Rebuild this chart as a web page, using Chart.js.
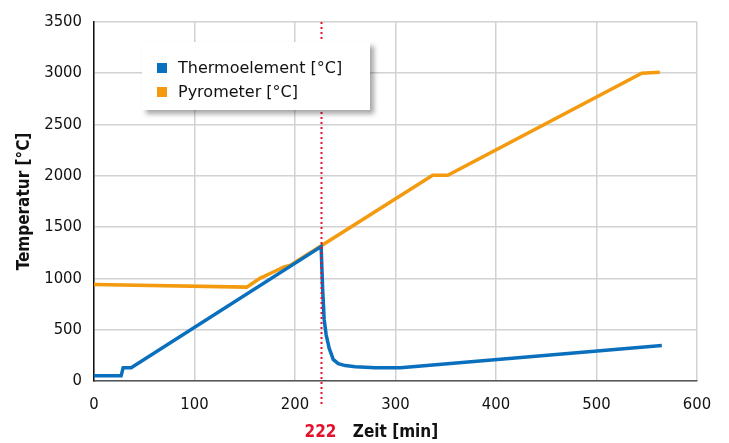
<!DOCTYPE html>
<html>
<head>
<meta charset="utf-8">
<script src="https://cdn.jsdelivr.net/npm/chart.js@4/dist/chart.umd.min.js"></script>
<style>
  html, body { margin: 0; padding: 0; background: #fff; }
  #wrap { position: relative; width: 729px; height: 443px; }
  #legend {
    position: absolute; left: 142px; top: 42px; width: 228px; height: 68px;
    background: #fff; box-shadow: 4px 4px 5px rgba(0,0,0,0.35);
    font-family: "DejaVu Sans", Verdana, sans-serif; font-size: 16px; color: #111;
  }
  #legend .row { position: absolute; left: 15px; height: 20px; line-height: 20px; white-space: nowrap; }
  #legend .box { display: inline-block; width: 10px; height: 10px; margin-right: 11px; vertical-align: 0px; }
</style>
</head>
<body>
<div id="wrap">
  <canvas id="chart" width="729" height="443"></canvas>
  <div id="legend">
    <div class="row" style="top:16px"><span class="box" style="background:#0a6fbd"></span>Thermoelement [°C]</div>
    <div class="row" style="top:40px"><span class="box" style="background:#f39a0f"></span>Pyrometer [°C]</div>
  </div>
</div>
<script>
// Zeit [min] / Temperatur [°C]
const thermoTime = [0, 27, 29, 37, 226, 227.5, 229, 231, 234, 238, 243, 250, 260, 280, 305, 565];
const thermoTemp = [50, 50, 130, 130, 1310, 900, 600, 450, 320, 210, 170, 150, 140, 130, 130, 345];

const pyroTime = [0, 152, 165, 180, 189, 195, 337, 352, 545, 563];
const pyroTemp = [940, 915, 1000, 1070, 1112, 1125, 2005, 2005, 3000, 3010];

const markerTime = 226;
const markerLabel = "222";

const toPoints = (xs, ys) => xs.map((x, i) => ({x: x, y: ys[i]}));

const tickFont = {family: "'DejaVu Sans Condensed', 'DejaVu Sans', sans-serif", size: 16.5};
const titleFont = {family: "'DejaVu Sans Condensed', 'DejaVu Sans', sans-serif", size: 17, weight: "bold"};

// dotted red marker line plus its label
const markerPlugin = {
    id: "marker",
    afterDatasetsDraw(chart) {
        const ctx = chart.ctx;
        const xs = chart.scales.x;
        const px = Math.round(xs.getPixelForValue(markerTime)) + 0.5;
        ctx.save();
        ctx.strokeStyle = "#e3122c";
        ctx.lineWidth = 2;
        ctx.setLineDash([2, 3]);
        ctx.beginPath();
        ctx.moveTo(px, chart.chartArea.top);
        ctx.lineTo(px, chart.chartArea.bottom + 26);
        ctx.stroke();
        ctx.setLineDash([]);
        ctx.fillStyle = "#e3122c";
        ctx.font = "bold 17px 'DejaVu Sans Condensed', 'DejaVu Sans', sans-serif";
        ctx.textAlign = "center";
        ctx.textBaseline = "middle";
        ctx.fillText(markerLabel, px - 1, 433);
        ctx.restore();
    }
};

new Chart(document.getElementById("chart").getContext("2d"), {
    type: "line",
    data: {
        datasets: [{
            label: "Thermoelement [°C]",
            data: toPoints(thermoTime, thermoTemp),
            borderColor: "#0a6fbd",
            borderWidth: 3.5,
            pointRadius: 0,
            tension: 0,
            fill: false
        }, {
            label: "Pyrometer [°C]",
            data: toPoints(pyroTime, pyroTemp),
            borderColor: "#f39a0f",
            borderWidth: 3.5,
            pointRadius: 0,
            tension: 0,
            fill: false
        }]
    },
    options: {
        responsive: false,
        animation: false,
        layout: {padding: {top: 20, right: 32, left: 0, bottom: 0}},
        plugins: {
            legend: {display: false},
            tooltip: {enabled: false}
        },
        scales: {
            x: {
                type: "linear",
                min: 0,
                max: 600,
                afterFit: s => { s.height = 62; },
                ticks: {stepSize: 100, color: "#111", font: tickFont, padding: 14, callback: v => String(v)},
                grid: {color: "#d2d2d2", lineWidth: 1.5, drawTicks: false},
                border: {color: "#555", width: 1.5},
                title: {display: true, text: "Zeit [min]", color: "#111", font: titleFont, padding: {top: 0, bottom: 0}}
            },
            y: {
                min: 0,
                max: 3500,
                afterFit: s => { s.width = 94; },
                ticks: {stepSize: 500, color: "#111", font: tickFont, padding: 12, callback: v => String(v)},
                grid: {color: "#d2d2d2", lineWidth: 1.5, drawTicks: false},
                border: {color: "#111", width: 1.5},
                title: {display: true, text: "Temperatur [°C]", color: "#111", font: titleFont, padding: {top: 14, bottom: 4}}
            }
        }
    },
    plugins: [markerPlugin]
});
</script>
</body>
</html>
